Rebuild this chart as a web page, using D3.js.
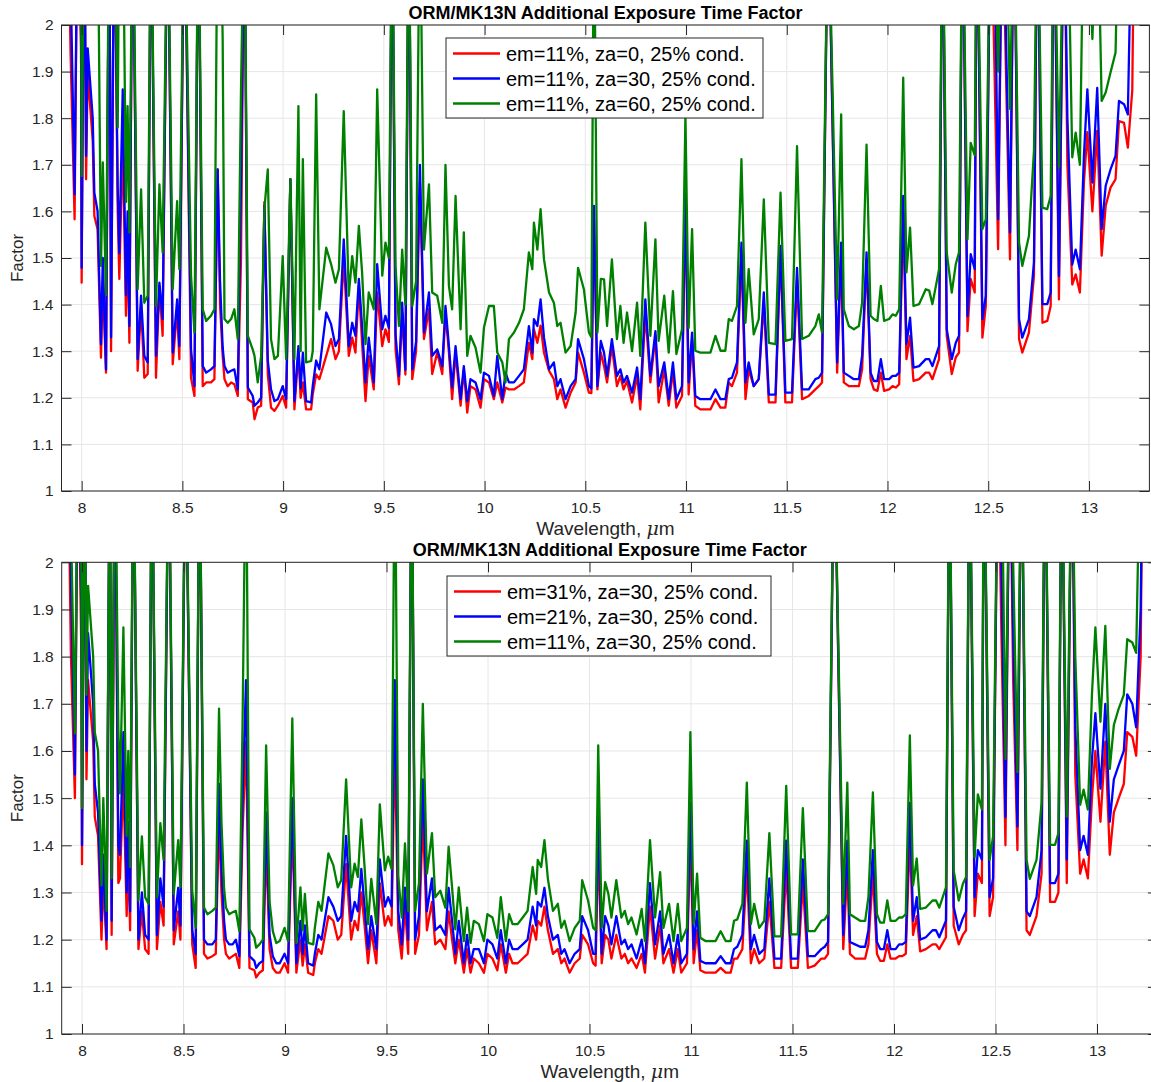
<!DOCTYPE html>
<html>
<head>
<meta charset="utf-8">
<script src="https://cdn.jsdelivr.net/npm/d3@7"></script>
<style>
  body { margin: 0; background: #fff; }
  svg { display: block; }
  text { font-family: "Liberation Sans", Arial, Helvetica, sans-serif; fill: #262626; }
</style>
</head>
<body>
<div id="chart"></div>
<script>
// Wavelength grid (µm), shared by every curve
const wavelength = [
  7.93, 7.945, 7.965, 7.98, 7.997, 8.0, 8.013, 8.022, 8.03, 8.055,
  8.063, 8.079, 8.096, 8.105, 8.121, 8.137, 8.146, 8.162, 8.179, 8.187,
  8.204, 8.22, 8.228, 8.237, 8.253, 8.278, 8.295, 8.311, 8.328, 8.344,
  8.369, 8.386, 8.402, 8.427, 8.452, 8.474, 8.485, 8.51, 8.543, 8.56,
  8.579, 8.601, 8.618, 8.642, 8.659, 8.675, 8.687, 8.70, 8.709, 8.725,
  8.742, 8.758, 8.775, 8.791, 8.808, 8.825, 8.849, 8.858, 8.874, 8.891,
  8.907, 8.924, 8.94, 8.957, 8.974, 8.998, 9.015, 9.036, 9.056, 9.076,
  9.087, 9.098, 9.114, 9.139, 9.147, 9.164, 9.18, 9.214, 9.238, 9.26,
  9.277, 9.301, 9.326, 9.343, 9.359, 9.376, 9.392, 9.409, 9.425, 9.45,
  9.467, 9.492, 9.508, 9.525, 9.541, 9.558, 9.575, 9.591, 9.607, 9.624,
  9.641, 9.66, 9.679, 9.699, 9.724, 9.74, 9.765, 9.79, 9.806, 9.823,
  9.839, 9.856, 9.881, 9.897, 9.914, 9.93, 9.955, 9.98, 9.997, 10.022,
  10.046, 10.063, 10.088, 10.104, 10.121, 10.146, 10.171, 10.195, 10.22, 10.237,
  10.245, 10.262, 10.278, 10.295, 10.32, 10.344, 10.361, 10.377, 10.402, 10.427,
  10.452, 10.464, 10.493, 10.518, 10.53, 10.543, 10.56, 10.577, 10.593, 10.608,
  10.632, 10.657, 10.674, 10.69, 10.707, 10.732, 10.757, 10.773, 10.798, 10.823,
  10.848, 10.864, 10.892, 10.914, 10.935, 10.952, 10.98, 10.997, 11.013, 11.03,
  11.046, 11.071, 11.121, 11.146, 11.171, 11.195, 11.212, 11.228, 11.253, 11.275,
  11.295, 11.311, 11.336, 11.361, 11.386, 11.411, 11.444, 11.469, 11.493, 11.526,
  11.551, 11.576, 11.609, 11.642, 11.659, 11.675, 11.705, 11.75, 11.77, 11.783,
  11.808, 11.833, 11.858, 11.874, 11.896, 11.916, 11.932, 11.95, 11.967, 11.983,
  12.008, 12.025, 12.041, 12.058, 12.078, 12.094, 12.112, 12.129, 12.157, 12.19,
  12.207, 12.223, 12.256, 12.273, 12.294, 12.319, 12.339, 12.355, 12.372, 12.397,
  12.413, 12.433, 12.443, 12.471, 12.488, 12.512, 12.529, 12.549, 12.57, 12.587,
  12.608, 12.628, 12.653, 12.669, 12.702, 12.727, 12.744, 12.769, 12.793, 12.81,
  12.826, 12.851, 12.876, 12.893, 12.917, 12.934, 12.955, 12.975, 12.992, 13.017,
  13.041, 13.063, 13.083, 13.107, 13.132, 13.149, 13.174, 13.193, 13.215, 13.226
];

// top panel: em=11%, za=0
const em11za0 = [
  2.3, 1.94, 1.583, 2.3, 1.95, 1.447, 2.3, 1.669, 1.9, 1.75,
  1.59, 1.562, 1.286, 1.45, 1.254, 2.3, 1.30, 2.3, 1.60, 1.455,
  1.75, 1.376, 1.55, 1.318, 2.3, 1.258, 1.40, 1.243, 1.251, 2.3,
  1.243, 1.44, 1.333, 2.3, 1.272, 1.39, 1.283, 2.3, 1.243, 1.204,
  2.3, 1.225, 1.233, 1.233, 1.24, 1.69, 1.40, 1.29, 1.24, 1.225,
  1.233, 1.229, 1.204, 1.497, 2.3, 1.197, 1.19, 1.154, 1.179, 1.183,
  1.62, 1.25, 1.179, 1.172, 1.183, 1.204, 1.179, 1.669, 1.175, 1.297,
  1.20, 1.233, 1.175, 1.175, 1.207, 1.25, 1.24, 1.29, 1.326, 1.283,
  1.30, 1.50, 1.29, 1.329, 1.297, 1.44, 1.318, 1.193, 1.29, 1.218,
  1.426, 1.311, 1.347, 1.32, 2.3, 1.304, 1.229, 1.383, 1.25, 2.3,
  1.24, 1.30, 1.662, 1.326, 1.39, 1.251, 1.297, 1.251, 1.383, 1.297,
  1.197, 1.297, 1.183, 1.261, 1.168, 1.225, 1.218, 1.179, 1.24, 1.233,
  1.197, 1.233, 1.19, 1.222, 1.218, 1.218, 1.225, 1.233, 1.318, 1.283,
  1.347, 1.318, 1.355, 1.297, 1.258, 1.24, 1.197, 1.218, 1.179, 1.211,
  1.233, 1.297, 1.254, 1.211, 1.21, 1.583, 1.218, 1.297, 1.268, 1.233,
  1.311, 1.225, 1.247, 1.218, 1.236, 1.19, 1.247, 1.175, 1.383, 1.233,
  1.333, 1.19, 1.261, 1.183, 1.258, 1.179, 1.204, 1.612, 1.207, 1.326,
  1.183, 1.175, 1.175, 1.197, 1.179, 1.179, 1.233, 1.225, 1.254, 1.512,
  1.197, 1.261, 1.225, 1.24, 1.404, 1.19, 1.19, 1.512, 1.19, 1.19,
  1.454, 1.197, 1.204, 1.218, 1.225, 1.233, 2.3, 1.254, 1.512, 1.233,
  1.225, 1.225, 1.225, 1.261, 1.497, 1.24, 1.218, 1.215, 1.254, 1.215,
  1.218, 1.225, 1.222, 1.229, 1.601, 1.283, 1.333, 1.236, 1.24, 1.254,
  1.254, 1.24, 1.283, 2.3, 1.333, 1.251, 1.287, 1.297, 2.3, 1.343,
  1.455, 1.426, 2.3, 1.329, 1.397, 2.3, 1.95, 1.519, 2.3, 1.92,
  1.497, 2.3, 1.326, 1.297, 1.34, 1.462, 2.3, 1.361, 1.365, 1.397,
  2.3, 1.411, 2.3, 1.7, 1.443, 1.465, 1.426, 1.662, 1.77, 1.60,
  1.773, 1.505, 1.612, 1.651, 1.669, 1.794, 1.79, 1.737, 1.86, 2.3
];

// em=11%, za=30 (blue in the top panel, green in the bottom panel)
const em11za30 = [
  2.3, 2.1, 1.637, 2.3, 1.98, 1.479, 2.3, 1.719, 1.95, 1.8,
  1.64, 1.601, 1.315, 1.5, 1.261, 2.3, 1.33, 2.3, 1.65, 1.51,
  1.862, 1.42, 1.60, 1.354, 2.3, 1.283, 1.419, 1.29, 1.276, 2.3,
  1.29, 1.447, 1.369, 2.3, 1.297, 1.411, 1.311, 2.3, 1.304, 1.225,
  2.3, 1.268, 1.254, 1.261, 1.268, 1.69, 1.45, 1.308, 1.268, 1.254,
  1.258, 1.261, 1.218, 1.66, 2.3, 1.222, 1.204, 1.183, 1.19, 1.2,
  1.612, 1.28, 1.218, 1.193, 1.197, 1.225, 1.197, 1.669, 1.193, 1.311,
  1.22, 1.297, 1.193, 1.19, 1.225, 1.28, 1.261, 1.383, 1.358, 1.311,
  1.326, 1.54, 1.311, 1.361, 1.333, 1.455, 1.354, 1.233, 1.329, 1.233,
  1.487, 1.347, 1.376, 1.35, 2.3, 1.336, 1.247, 1.404, 1.26, 2.3,
  1.261, 1.32, 1.70, 1.34, 1.426, 1.29, 1.304, 1.268, 1.397, 1.311,
  1.222, 1.311, 1.197, 1.268, 1.193, 1.24, 1.233, 1.197, 1.254, 1.247,
  1.204, 1.29, 1.197, 1.254, 1.233, 1.233, 1.247, 1.261, 1.354, 1.297,
  1.369, 1.354, 1.411, 1.329, 1.261, 1.276, 1.225, 1.24, 1.197, 1.225,
  1.24, 1.326, 1.283, 1.225, 1.22, 1.612, 1.225, 1.322, 1.297, 1.247,
  1.326, 1.247, 1.261, 1.233, 1.247, 1.211, 1.265, 1.197, 1.411, 1.247,
  1.343, 1.225, 1.276, 1.197, 1.276, 1.197, 1.225, 1.64, 1.233, 1.34,
  1.204, 1.197, 1.197, 1.218, 1.197, 1.197, 1.24, 1.243, 1.276, 1.533,
  1.233, 1.276, 1.225, 1.24, 1.426, 1.207, 1.207, 1.526, 1.211, 1.211,
  1.479, 1.218, 1.218, 1.24, 1.243, 1.254, 2.3, 1.276, 1.533, 1.254,
  1.247, 1.24, 1.24, 1.29, 1.512, 1.254, 1.236, 1.236, 1.283, 1.24,
  1.24, 1.247, 1.247, 1.254, 1.633, 1.315, 1.372, 1.265, 1.268, 1.283,
  1.283, 1.268, 1.311, 2.3, 1.347, 1.283, 1.318, 1.333, 2.3, 1.375,
  1.508, 1.476, 2.3, 1.369, 1.419, 2.3, 2.3, 1.583, 2.3, 2.0,
  1.555, 2.3, 1.369, 1.329, 1.369, 1.49, 2.3, 1.401, 1.401, 1.426,
  2.3, 1.461, 2.3, 1.8, 1.486, 1.518, 1.476, 1.719, 1.862, 1.662,
  1.865, 1.562, 1.655, 1.69, 1.719, 1.837, 1.83, 1.808, 2.3, 2.3
];

// top panel: em=11%, za=60
const em11za60 = [
  2.3, 2.3, 2.3, 2.3, 2.3, 1.676, 2.3, 2.3, 2.3, 2.3,
  2.3, 2.3, 1.483, 1.705, 1.42, 2.3, 2.3, 2.3, 1.78, 2.3,
  2.3, 1.62, 1.826, 1.555, 2.3, 1.433, 1.647, 1.404, 1.419, 2.3,
  1.397, 1.658, 1.512, 2.3, 1.433, 1.622, 1.476, 2.3, 1.462, 1.34,
  2.3, 1.39, 1.365, 1.376, 1.39, 2.3, 2.3, 1.97, 1.369, 1.361,
  1.369, 1.39, 1.326, 1.862, 2.3, 1.333, 1.304, 1.29, 1.233, 1.29,
  1.605, 1.69, 1.326, 1.283, 1.29, 1.504, 1.283, 1.669, 1.283, 1.826,
  1.30, 1.712, 1.276, 1.279, 1.30, 1.851, 1.39, 1.522, 1.487, 1.447,
  1.476, 1.815, 1.419, 1.504, 1.447, 1.569, 1.469, 1.315, 1.426, 1.39,
  1.862, 1.462, 1.533, 1.50, 2.3, 1.483, 1.354, 1.518, 1.40, 2.3,
  1.397, 1.45, 2.3, 1.518, 1.658, 1.426, 1.419, 1.361, 1.70, 1.44,
  1.39, 1.633, 1.347, 1.555, 1.29, 1.333, 1.308, 1.254, 1.351, 1.397,
  1.397, 1.297, 1.276, 1.233, 1.326, 1.34, 1.361, 1.39, 1.512, 1.476,
  1.576, 1.518, 1.605, 1.497, 1.426, 1.404, 1.354, 1.361, 1.297, 1.311,
  1.383, 1.479, 1.433, 1.34, 1.33, 2.3, 1.34, 1.455, 1.454, 1.354,
  1.497, 1.326, 1.397, 1.318, 1.383, 1.30, 1.404, 1.29, 1.576, 1.333,
  1.54, 1.322, 1.419, 1.297, 1.429, 1.294, 1.347, 1.805, 1.35, 1.562,
  1.301, 1.297, 1.297, 1.333, 1.301, 1.301, 1.369, 1.365, 1.397, 1.712,
  1.361, 1.476, 1.336, 1.369, 1.626, 1.318, 1.315, 1.64, 1.322, 1.326,
  1.74, 1.326, 1.333, 1.354, 1.379, 1.34, 2.3, 1.411, 1.808, 1.39,
  1.354, 1.347, 1.354, 1.404, 1.743, 1.376, 1.369, 1.365, 1.44, 1.365,
  1.369, 1.379, 1.376, 1.39, 1.887, 1.469, 1.565, 1.397, 1.401, 1.433,
  1.43, 1.401, 1.476, 2.3, 1.512, 1.426, 1.487, 1.512, 2.3, 1.54,
  1.747, 1.72, 2.3, 1.562, 1.583, 2.3, 2.3, 1.9, 2.3, 2.3,
  1.82, 2.3, 1.533, 1.483, 1.547, 1.73, 2.3, 1.608, 1.605, 1.633,
  2.3, 1.694, 2.3, 2.3, 1.716, 1.769, 1.70, 2.3, 2.3, 1.97,
  2.3, 1.837, 1.855, 1.898, 1.941, 2.3, 2.3, 2.3, 2.3, 2.3
];

// bottom panel: em=21%, za=30
const em21za30 = [
  2.3, 1.98, 1.55, 2.3, 1.9, 1.40, 2.3, 1.6, 1.85, 1.7,
  1.53, 1.47, 1.24, 1.38, 1.20, 2.3, 1.24, 2.3, 1.40, 1.38,
  1.64, 1.30, 1.45, 1.26, 2.3, 1.20, 1.30, 1.21, 1.20, 2.3,
  1.21, 1.33, 1.27, 2.3, 1.22, 1.31, 1.23, 2.3, 1.22, 1.17,
  2.3, 1.2, 1.19, 1.19, 1.2, 1.53, 1.35, 1.24, 1.2, 1.19,
  1.19, 1.2, 1.165, 1.5, 1.75, 1.165, 1.155, 1.14, 1.15, 1.155,
  1.47, 1.21, 1.165, 1.15, 1.15, 1.17, 1.15, 1.5, 1.15, 1.24,
  1.17, 1.23, 1.15, 1.145, 1.17, 1.21, 1.2, 1.29, 1.27, 1.24,
  1.25, 1.42, 1.24, 1.28, 1.26, 1.35, 1.27, 1.18, 1.25, 1.18,
  1.37, 1.27, 1.29, 1.27, 1.75, 1.26, 1.19, 1.31, 1.2, 2.3,
  1.2, 1.25, 1.54, 1.26, 1.33, 1.22, 1.23, 1.21, 1.31, 1.24,
  1.17, 1.24, 1.15, 1.21, 1.15, 1.18, 1.18, 1.15, 1.2, 1.19,
  1.16, 1.22, 1.15, 1.2, 1.18, 1.18, 1.19, 1.2, 1.27, 1.23,
  1.28, 1.27, 1.31, 1.25, 1.2, 1.21, 1.17, 1.18, 1.15, 1.17,
  1.18, 1.25, 1.22, 1.17, 1.17, 1.47, 1.17, 1.25, 1.23, 1.19,
  1.25, 1.19, 1.2, 1.18, 1.19, 1.16, 1.2, 1.15, 1.32, 1.19,
  1.26, 1.17, 1.21, 1.15, 1.21, 1.15, 1.17, 1.49, 1.18, 1.26,
  1.155, 1.15, 1.15, 1.165, 1.15, 1.15, 1.18, 1.185, 1.21, 1.41,
  1.18, 1.21, 1.17, 1.18, 1.33, 1.16, 1.16, 1.41, 1.16, 1.16,
  1.37, 1.165, 1.165, 1.18, 1.185, 1.195, 2.3, 1.21, 1.41, 1.195,
  1.19, 1.185, 1.185, 1.22, 1.39, 1.195, 1.18, 1.18, 1.22, 1.18,
  1.18, 1.19, 1.19, 1.195, 1.49, 1.24, 1.29, 1.2, 1.205, 1.22,
  1.22, 1.205, 1.24, 2.3, 1.27, 1.22, 1.245, 1.26, 2.3, 1.29,
  1.39, 1.37, 2.3, 1.29, 1.33, 2.3, 2.0, 1.46, 2.3, 1.85,
  1.44, 2.3, 1.26, 1.25, 1.29, 1.39, 2.3, 1.32, 1.32, 1.34,
  2.3, 1.37, 2.3, 1.65, 1.39, 1.42, 1.38, 1.58, 1.68, 1.52,
  1.7, 1.45, 1.54, 1.57, 1.6, 1.72, 1.7, 1.65, 1.9, 2.3
];

// bottom panel: em=31%, za=30
const em31za30 = [
  2.3, 1.81, 1.50, 2.3, 1.8, 1.36, 2.3, 1.54, 1.75, 1.62,
  1.46, 1.42, 1.20, 1.33, 1.18, 2.3, 1.21, 2.3, 1.32, 1.33,
  1.54, 1.25, 1.38, 1.22, 2.3, 1.18, 1.26, 1.18, 1.17, 2.3,
  1.18, 1.28, 1.23, 2.3, 1.19, 1.26, 1.2, 2.3, 1.19, 1.14,
  2.3, 1.17, 1.16, 1.165, 1.17, 1.46, 1.3, 1.2, 1.17, 1.16,
  1.165, 1.17, 1.14, 1.43, 1.62, 1.14, 1.135, 1.12, 1.13, 1.135,
  1.4, 1.18, 1.14, 1.13, 1.13, 1.15, 1.13, 1.44, 1.13, 1.2,
  1.145, 1.19, 1.13, 1.125, 1.15, 1.18, 1.17, 1.25, 1.24, 1.2,
  1.21, 1.36, 1.2, 1.24, 1.22, 1.3, 1.23, 1.15, 1.22, 1.15,
  1.32, 1.23, 1.25, 1.23, 1.62, 1.22, 1.16, 1.27, 1.17, 2.3,
  1.17, 1.21, 1.46, 1.22, 1.28, 1.19, 1.2, 1.18, 1.26, 1.2,
  1.15, 1.2, 1.13, 1.18, 1.13, 1.16, 1.15, 1.13, 1.17, 1.16,
  1.135, 1.19, 1.13, 1.17, 1.15, 1.15, 1.16, 1.17, 1.23, 1.2,
  1.24, 1.23, 1.27, 1.22, 1.17, 1.18, 1.15, 1.16, 1.13, 1.15,
  1.16, 1.21, 1.19, 1.15, 1.145, 1.4, 1.15, 1.21, 1.2, 1.16,
  1.21, 1.16, 1.17, 1.15, 1.16, 1.14, 1.17, 1.13, 1.27, 1.16,
  1.23, 1.15, 1.18, 1.13, 1.18, 1.13, 1.15, 1.42, 1.15, 1.22,
  1.135, 1.13, 1.13, 1.14, 1.13, 1.13, 1.16, 1.16, 1.18, 1.35,
  1.15, 1.18, 1.15, 1.16, 1.28, 1.14, 1.14, 1.35, 1.14, 1.14,
  1.32, 1.14, 1.145, 1.16, 1.16, 1.17, 2.3, 1.18, 1.35, 1.17,
  1.16, 1.16, 1.16, 1.19, 1.34, 1.17, 1.155, 1.155, 1.19, 1.16,
  1.16, 1.165, 1.165, 1.17, 1.42, 1.21, 1.25, 1.175, 1.18, 1.19,
  1.19, 1.18, 1.205, 2.3, 1.23, 1.19, 1.21, 1.22, 2.3, 1.25,
  1.34, 1.32, 2.3, 1.25, 1.29, 2.3, 1.85, 1.40, 2.3, 1.75,
  1.39, 2.3, 1.22, 1.21, 1.25, 1.34, 2.3, 1.28, 1.28, 1.3,
  2.3, 1.32, 2.3, 1.55, 1.34, 1.37, 1.33, 1.5, 1.6, 1.45,
  1.62, 1.38, 1.47, 1.5, 1.53, 1.64, 1.63, 1.59, 1.8, 2.3
];

const xTicks = [8, 8.5, 9, 9.5, 10, 10.5, 11, 11.5, 12, 12.5, 13];
const xTickLabels = ['8', '8.5', '9', '9.5', '10', '10.5', '11', '11.5', '12', '12.5', '13'];
const yTicks = [1, 1.1, 1.2, 1.3, 1.4, 1.5, 1.6, 1.7, 1.8, 1.9, 2];
const yTickLabels = ['1', '1.1', '1.2', '1.3', '1.4', '1.5', '1.6', '1.7', '1.8', '1.9', '2'];

const titleText = 'ORM/MK13N Additional Exposure Time Factor';
const topLabels = ['em=11%, za=0, 25% cond.', 'em=11%, za=30, 25% cond.', 'em=11%, za=60, 25% cond.'];
const bottomLabels = ['em=31%, za=30, 25% cond.', 'em=21%, za=30, 25% cond.', 'em=11%, za=30, 25% cond.'];
const colors = ['#ff0000', '#0000ff', '#008000'];

const panels = [
  { id: 'top', left: 61.5, right: 1149.4, top: 25, bottom: 491,
    series: [em11za0, em11za30, em11za60], labels: topLabels,
    legend: { x: 446, y: 38, w: 317, h: 80 } },
  { id: 'bottom', left: 61.7, right: 1157.9, top: 562.3, bottom: 1034,
    series: [em31za30, em21za30, em11za30], labels: bottomLabels,
    legend: { x: 447, y: 576, w: 324, h: 80 } }
];

const svg = d3.select('#chart').append('svg')
  .attr('width', 1151)
  .attr('height', 1082);

function drawPanel(p) {
  const x = d3.scaleLinear().domain([7.9, 13.3]).range([p.left, p.right]);
  const y = d3.scaleLinear().domain([1, 2]).range([p.bottom, p.top]);
  const g = svg.append('g');

  // grid
  g.append('g').selectAll('line').data(xTicks).join('line')
    .attr('x1', d => x(d)).attr('x2', d => x(d))
    .attr('y1', p.top).attr('y2', p.bottom)
    .attr('stroke', '#e6e6e6').attr('stroke-width', 1);
  g.append('g').selectAll('line').data(yTicks).join('line')
    .attr('x1', p.left).attr('x2', p.right)
    .attr('y1', d => y(d)).attr('y2', d => y(d))
    .attr('stroke', '#e6e6e6').attr('stroke-width', 1);

  // clip to the axes box
  const clipId = 'clip-' + p.id;
  svg.append('clipPath').attr('id', clipId)
    .append('rect')
    .attr('x', p.left).attr('y', p.top)
    .attr('width', p.right - p.left).attr('height', p.bottom - p.top);

  const line = d3.line()
    .x((d, i) => x(wavelength[i]))
    .y(d => y(d));

  const linesG = g.append('g').attr('clip-path', `url(#${clipId})`);
  p.series.forEach((vals, i) => {
    linesG.append('path')
      .datum(vals)
      .attr('d', line)
      .attr('fill', 'none')
      .attr('stroke', colors[i])
      .attr('stroke-width', 2.3)
      .attr('stroke-linejoin', 'round');
  });

  // axes (ticks inside, MATLAB style)
  const axB = g.append('g').attr('transform', `translate(0,${p.bottom})`)
    .call(d3.axisBottom(x).tickValues(xTicks).tickSizeInner(-10).tickSizeOuter(0)
      .tickPadding(11).tickFormat((d, i) => xTickLabels[i]));
  const axT = g.append('g').attr('transform', `translate(0,${p.top})`)
    .call(d3.axisTop(x).tickValues(xTicks).tickSizeInner(-10).tickSizeOuter(0).tickFormat(''));
  const axL = g.append('g').attr('transform', `translate(${p.left},0)`)
    .call(d3.axisLeft(y).tickValues(yTicks).tickSizeInner(-10).tickSizeOuter(0)
      .tickPadding(8).tickFormat((d, i) => yTickLabels[i]));
  const axR = g.append('g').attr('transform', `translate(${p.right},0)`)
    .call(d3.axisRight(y).tickValues(yTicks).tickSizeInner(-10).tickSizeOuter(0).tickFormat(''));

  [axB, axT, axL, axR].forEach(a => {
    a.select('.domain').remove();
    a.selectAll('line').attr('stroke', '#262626').attr('stroke-width', 1);
    a.selectAll('text').attr('fill', '#262626')
      .style('font-size', '15.5px')
      .style('font-family', '"Liberation Sans", Arial, Helvetica, sans-serif');
  });

  g.append('rect')
    .attr('x', p.left).attr('y', p.top)
    .attr('width', p.right - p.left).attr('height', p.bottom - p.top)
    .attr('fill', 'none').attr('stroke', '#262626').attr('stroke-width', 1);

  // title
  const cx = (p.left + p.right) / 2;
  g.append('text')
    .attr('x', cx).attr('y', p.top - 6)
    .attr('text-anchor', 'middle')
    .style('font-size', '18px').style('font-weight', 'bold')
    .style('fill', '#000')
    .text(titleText);

  // x label
  const xl = g.append('text')
    .attr('x', cx).attr('y', p.bottom + 44)
    .attr('text-anchor', 'middle')
    .style('font-size', '19px');
  xl.append('tspan').text('Wavelength, ');
  xl.append('tspan').style('font-style', 'italic').style('font-family', '"DejaVu Serif", serif').text('\u03bc');
  xl.append('tspan').text('m');

  // y label
  g.append('text')
    .attr('transform', `translate(23,${(p.top + p.bottom) / 2}) rotate(-90)`)
    .attr('text-anchor', 'middle')
    .style('font-size', '17px')
    .text('Factor');

  // legend
  const L = p.legend;
  const lg = g.append('g');
  lg.append('rect')
    .attr('x', L.x).attr('y', L.y).attr('width', L.w).attr('height', L.h)
    .attr('fill', '#fff').attr('stroke', '#262626').attr('stroke-width', 1);
  p.labels.forEach((lab, i) => {
    const cy = L.y + 15.5 + i * 25;
    lg.append('line')
      .attr('x1', L.x + 7).attr('x2', L.x + 54)
      .attr('y1', cy).attr('y2', cy)
      .attr('stroke', colors[i]).attr('stroke-width', 2.3);
    lg.append('text')
      .attr('x', L.x + 60).attr('y', cy + 7)
      .style('font-size', '20px')
      .style('fill', '#000')
      .text(lab);
  });
}

panels.forEach(drawPanel);
</script>
</body>
</html>
